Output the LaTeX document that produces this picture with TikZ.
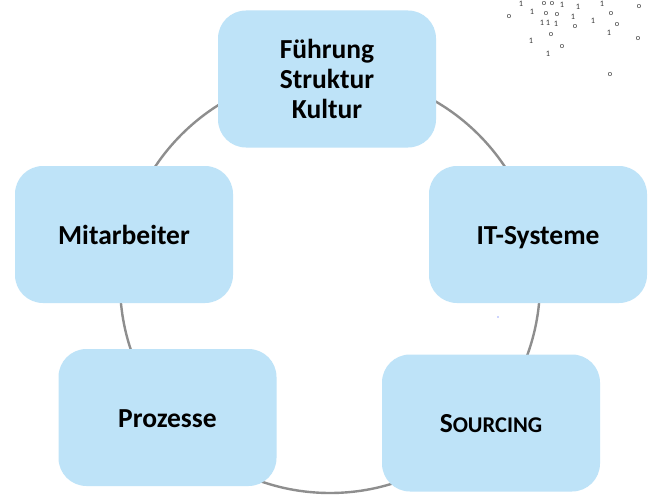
\documentclass[tikz,border=0pt]{standalone}
\usepackage{fontspec}
\setmainfont{Carlito}
\definecolor{boxblue}{HTML}{BEE3F8}
\definecolor{ringgray}{HTML}{8E8E8E}
\definecolor{digitgray}{HTML}{3A3A3A}
\begin{document}
\begin{tikzpicture}[x=1pt,y=-1pt,
  card/.style={fill=boxblue, draw=none, rounded corners=28pt, minimum width=218pt, minimum height=137pt, align=center, inner sep=0pt, font=\fontsize{27.5}{30}\selectfont\bfseries},
  oneline/.style={text height=19pt, text depth=0pt},
  bit/.style={text=digitgray, font=\fontsize{8.3}{8.3}\selectfont, inner sep=0pt}]
\useasboundingbox (0,0) rectangle (648,495);
\fill[white] (0,0) rectangle (648,495);
\node[coordinate] (c) at (330,283) {};
\draw[ringgray, line width=2.4pt] (c) circle[radius=210];
\node[card] (top) at (327,79) {Führung\\Struktur\\Kultur};
\node[card, oneline] (mit) at (124,234.5) {Mitarbeiter};
\node[card, oneline] (it) at (538,234.5) {IT-Systeme};
\node[card, oneline] (proz) at (167.5,417.5) {Prozesse};
\node[card, oneline] (src) at (491,423) {S{\fontsize{22.5}{26}\selectfont OURCING}};
\fill[boxblue!60!blue!70] (498,317) circle[radius=0.9];
% binary digits
\foreach \x/\y/\t [count=\i] in {
 521/3.5/1, 544/4/o, 552/4/o, 562/5/1, 578/7/1, 602/3.5/1, 639/7/o,
 509/17/o, 532/11.5/1, 546/13.5/o, 557/15/o, 573/17/1, 593/21/1, 611/14/o, 617/25/o,
 542/23/1, 548/23/1, 556/24/1, 575/27/o, 609/33/1, 551/35/o, 638/39/o,
 531/41/1, 562/47/o, 548/54/1, 610/75/o}
  \node[bit] (b\i) at (\x,\y) {\t};
\end{tikzpicture}
\end{document}
